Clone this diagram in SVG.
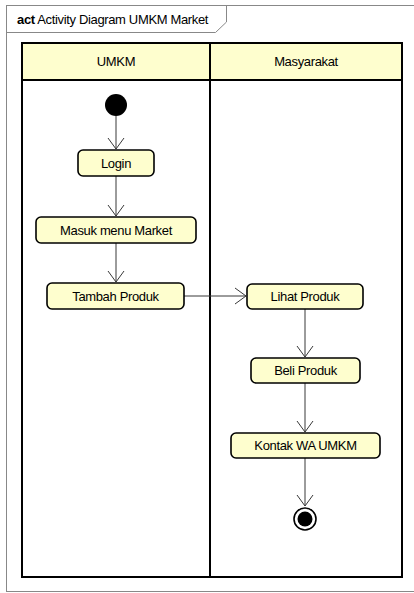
<svg xmlns="http://www.w3.org/2000/svg" width="414" height="593" viewBox="0 0 414 593">
  <defs>
    <style>
      text { font-family: "Liberation Sans", Arial, sans-serif; font-size: 13px; fill: #000; letter-spacing: -0.35px; }
      .lbl { text-anchor: middle; }
      .action { fill: #FEFECE; stroke: #000; stroke-width: 1.6; }
      .lane { fill: none; stroke: #000; stroke-width: 2; }
      .lanehead { fill: #FEFECE; stroke: #000; stroke-width: 2; }
      .flow { fill: none; stroke: #383838; stroke-width: 1; }
    </style>
    <marker id="open" viewBox="0 0 12 18" refX="11" refY="9" markerWidth="12" markerHeight="18" markerUnits="userSpaceOnUse" orient="auto">
      <path d="M0,1 L11,9 L0,17" fill="none" stroke="#383838" stroke-width="1"/>
    </marker>
  </defs>

  <rect width="414" height="593" fill="#fff"/>

  <!-- frame and title tab -->
  <g id="frame">
    <rect x="6.5" y="5.5" width="420" height="586" fill="none" stroke="#888" stroke-width="1"/>
    <path d="M6.5,32.5 H215.5 L226.5,22 V5.5" fill="none" stroke="#888" stroke-width="1"/>
    <text x="17" y="24" font-size="13"><tspan font-weight="bold">act</tspan> Activity Diagram UMKM Market</text>
  </g>

  <!-- swimlanes -->
  <g id="lanes">
    <rect class="lanehead" x="22" y="43" width="380" height="37"/>
    <rect class="lane" x="22" y="43" width="380" height="534"/>
    <line x1="210" y1="43" x2="210" y2="577" stroke="#000" stroke-width="2"/>
    <text class="lbl" x="116" y="66">UMKM</text>
    <text class="lbl" x="306" y="66">Masyarakat</text>
  </g>

  <!-- connectors -->
  <g id="connectors">
    <line class="flow" x1="116" y1="116" x2="116" y2="149" marker-end="url(#open)"/>
    <line class="flow" x1="116" y1="176" x2="116" y2="216" marker-end="url(#open)"/>
    <line class="flow" x1="116" y1="243" x2="116" y2="282" marker-end="url(#open)"/>
    <line class="flow" x1="184" y1="296" x2="246" y2="296" marker-end="url(#open)"/>
    <line class="flow" x1="305" y1="309" x2="305" y2="357" marker-end="url(#open)"/>
    <line class="flow" x1="305" y1="383" x2="305" y2="432" marker-end="url(#open)"/>
    <line class="flow" x1="305" y1="458" x2="305" y2="506" marker-end="url(#open)"/>
  </g>

  <g id="start">
    <circle cx="116" cy="105" r="11" fill="#000"/>
  </g>

  <g id="login">
    <rect class="action" x="78" y="150" width="76" height="26" rx="5"/>
    <text class="lbl" x="116" y="168">Login</text>
  </g>

  <g id="masuk-menu-market">
    <rect class="action" x="36" y="217" width="160" height="26" rx="5"/>
    <text class="lbl" x="116" y="235">Masuk menu Market</text>
  </g>

  <g id="tambah-produk">
    <rect class="action" x="47" y="283" width="137" height="26" rx="5"/>
    <text class="lbl" x="115.5" y="301">Tambah Produk</text>
  </g>

  <g id="lihat-produk">
    <rect class="action" x="247" y="284" width="116" height="25" rx="5"/>
    <text class="lbl" x="305" y="301">Lihat Produk</text>
  </g>

  <g id="beli-produk">
    <rect class="action" x="251" y="358" width="109" height="25" rx="5"/>
    <text class="lbl" x="305.5" y="375">Beli Produk</text>
  </g>

  <g id="kontak-wa-umkm">
    <rect class="action" x="231" y="433" width="149" height="25" rx="5"/>
    <text class="lbl" x="305.5" y="450">Kontak WA UMKM</text>
  </g>

  <g id="end">
    <circle cx="305" cy="519" r="11" fill="#fff" stroke="#000" stroke-width="1.6"/>
    <circle cx="305" cy="519" r="7.5" fill="#000"/>
  </g>
</svg>
